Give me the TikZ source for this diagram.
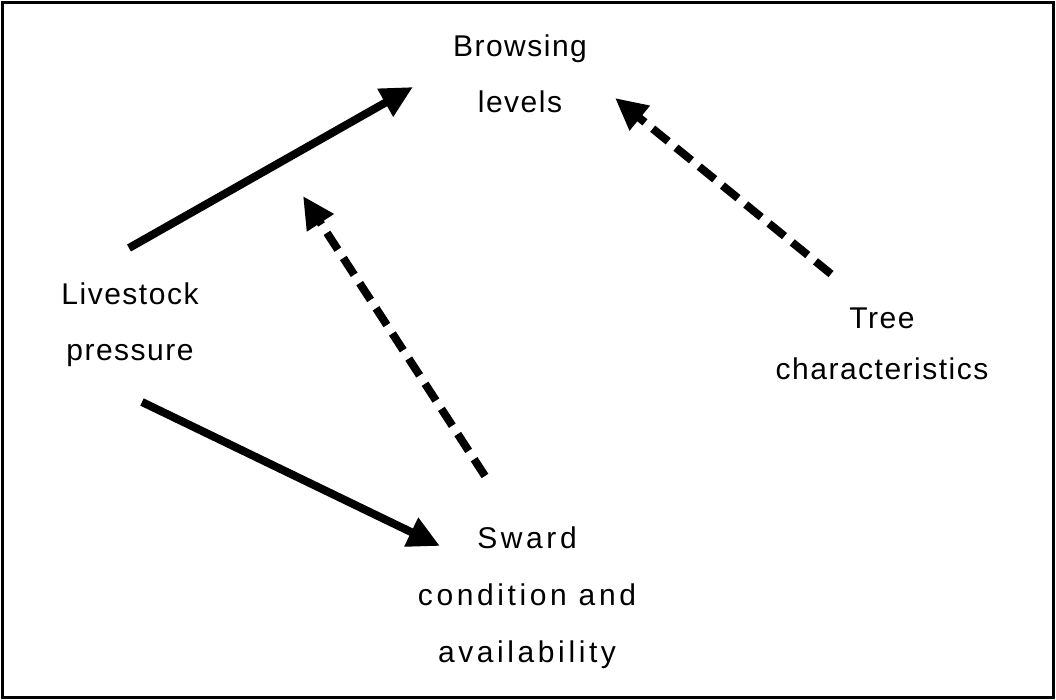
\documentclass[tikz,border=0pt]{standalone}
\usepackage{fontspec}
\setmainfont{Liberation Sans}
\newfontfamily\labfont[LetterSpace=5]{Liberation Sans}
\newfontfamily\widefont[LetterSpace=12]{Liberation Sans}
\usetikzlibrary{arrows.meta}

\begin{document}
\begin{tikzpicture}[x=1pt, y=-1pt,
  lbl/.style={align=center, inner sep=0pt, anchor=base,
              font=\labfont\fontsize{30}{56}\selectfont},
  fullarr/.style={-{Triangle[length=32pt, width=30pt]}, line width=8pt},
  dasharr/.style={fullarr, dash pattern=on 20pt off 10pt}]
  \useasboundingbox (0,0) rectangle (1056,700);
  \draw[line width=3pt] (2.5,2.5) rectangle (1053.5,697.5);

  % factors (placed by the baseline of the last line)
  \node[lbl] (browse) at (520,113) {Browsing\\levels};
  \node[lbl] (stock) at (130,360) {Livestock\\pressure};
  \node[lbl, font=\widefont\fontsize{30}{57}\selectfont] (sward) at (527,662)
    {Sward\\condition and\\availability};
  \node[lbl] (tree) at (882,379) {Tree\\[-5pt]characteristics};

  % arrow ends
  \coordinate (stockup) at (129,248);
  \coordinate (browsein) at (413,87);
  \coordinate (stockdown) at (142,402);
  \coordinate (swardin) at (440,546);
  \coordinate (swardup) at (485,476);
  \coordinate (swardtip) at (303,196);
  \coordinate (treeup) at (831,274);
  \coordinate (treetip) at (615,98);

  % effects
  \draw[fullarr] (stockup) -- (browsein);
  \draw[fullarr] (stockdown) -- (swardin);
  \draw[dasharr] (swardup) -- (swardtip);
  \draw[dasharr] (treeup) -- (treetip);
\end{tikzpicture}
\end{document}
